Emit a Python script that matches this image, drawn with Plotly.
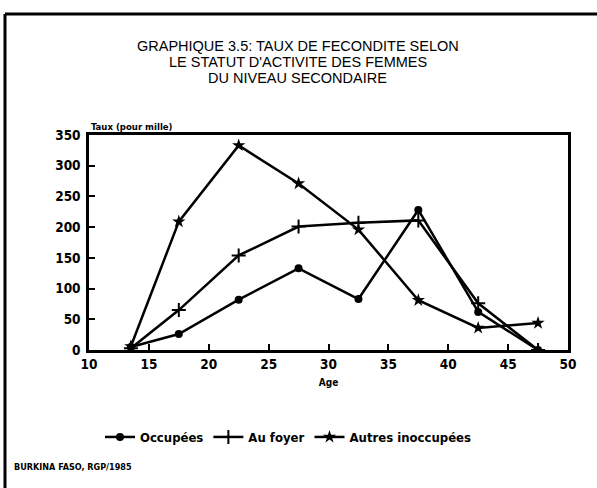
import plotly.graph_objects as go

# age points (group midpoints) and fertility rates per thousand
ages = [13.5, 17.5, 22.5, 27.5, 32.5, 37.5, 42.5, 47.5]
occupees = [5, 26, 82, 133, 83, 228, 62, 0]
au_foyer = [3, 65, 154, 201, 207, 211, 76, 0]
autres_inoccupees = [6, 209, 333, 271, 196, 81, 36, 44]

x_ticks = [10, 15, 20, 25, 30, 35, 40, 45, 50]
y_ticks = [0, 50, 100, 150, 200, 250, 300, 350]

title_lines = ['GRAPHIQUE 3.5: TAUX DE FECONDITE SELON',
               "LE STATUT D'ACTIVITE DES FEMMES",
               'DU NIVEAU SECONDAIRE']

COND = 'DejaVu Sans Condensed, Liberation Sans, sans-serif'
SANS = 'Liberation Sans, Arial, sans-serif'

fig = go.Figure()
fig.add_trace(go.Scatter(x=ages, y=occupees, name='Occupées', mode='lines+markers',
                         line=dict(color='black', width=2.5),
                         marker=dict(symbol='circle', size=8, color='black')))
fig.add_trace(go.Scatter(x=ages, y=au_foyer, name='Au foyer', mode='lines+markers',
                         line=dict(color='black', width=2.5),
                         marker=dict(symbol='cross-thin', size=10, color='black',
                                     line=dict(color='black', width=2))))
fig.add_trace(go.Scatter(x=ages, y=autres_inoccupees, name='Autres inoccupées', mode='lines+markers',
                         line=dict(color='black', width=2.5),
                         marker=dict(symbol='star', size=10, color='black')))

axis_style = dict(showline=True, mirror=True, linewidth=2.5, linecolor='black',
                  ticks='inside', ticklen=6, tickwidth=2, tickcolor='black',
                  showgrid=False, zeroline=False,
                  tickfont=dict(family=COND, size=13.5, color='black', weight='bold'))

fig.update_xaxes(range=[10, 50], tickvals=x_ticks, **axis_style,
                 title=dict(text='Age', standoff=9,
                            font=dict(family=COND, size=10, color='black', weight='bold')))
fig.update_yaxes(range=[0, 350], tickvals=y_ticks, ticklabelstandoff=3, **axis_style)

annotations = []
for i, line in enumerate(title_lines):
    annotations.append(dict(text=line, xref='paper', yref='paper', x=0.436, y=(350 - (46 + 16 * i)) / 215,
                            xanchor='center', yanchor='middle', showarrow=False,
                            font=dict(family=SANS, size=14.5, color='black')))
annotations.append(dict(text='Taux (pour mille)', xref='paper', yref='paper', x=0, y=(350 - 126) / 215,
                        xanchor='left', yanchor='middle', showarrow=False,
                        font=dict(family=COND, size=9.5, color='black', weight='bold')))
annotations.append(dict(text='BURKINA FASO, RGP/1985', xref='paper', yref='paper', x=(12 - 89) / 479,
                        y=(350 - 467) / 215, xanchor='left', yanchor='middle', showarrow=False,
                        font=dict(family=COND, size=9, color='black', weight='bold')))

# page frame: left and top rules of the scanned page
shapes = [
    dict(type='line', xref='paper', yref='paper', x0=(5 - 89) / 479, x1=(5 - 89) / 479,
         y0=(350 - 14) / 215, y1=(350 - 490) / 215, line=dict(color='black', width=3)),
    dict(type='line', xref='paper', yref='paper', x0=(5 - 89) / 479, x1=(600 - 89) / 479,
         y0=(350 - 14) / 215, y1=(350 - 14) / 215, line=dict(color='black', width=3)),
]

fig.update_layout(width=597, height=488, template='none', paper_bgcolor='white', plot_bgcolor='white',
                  margin=dict(l=89, r=29, t=135, b=138),
                  showlegend=True,
                  legend=dict(orientation='h', x=(100 - 89) / 479, y=(350 - 437) / 215,
                              xanchor='left', yanchor='middle',
                              font=dict(family=COND, size=13, color='black', weight='bold')),
                  annotations=annotations, shapes=shapes)

# drop the browser's default body margin so the figure sits at the window origin
fig.write_html('out.html', config={'displayModeBar': False},
               post_script="document.body.style.margin='0';")
